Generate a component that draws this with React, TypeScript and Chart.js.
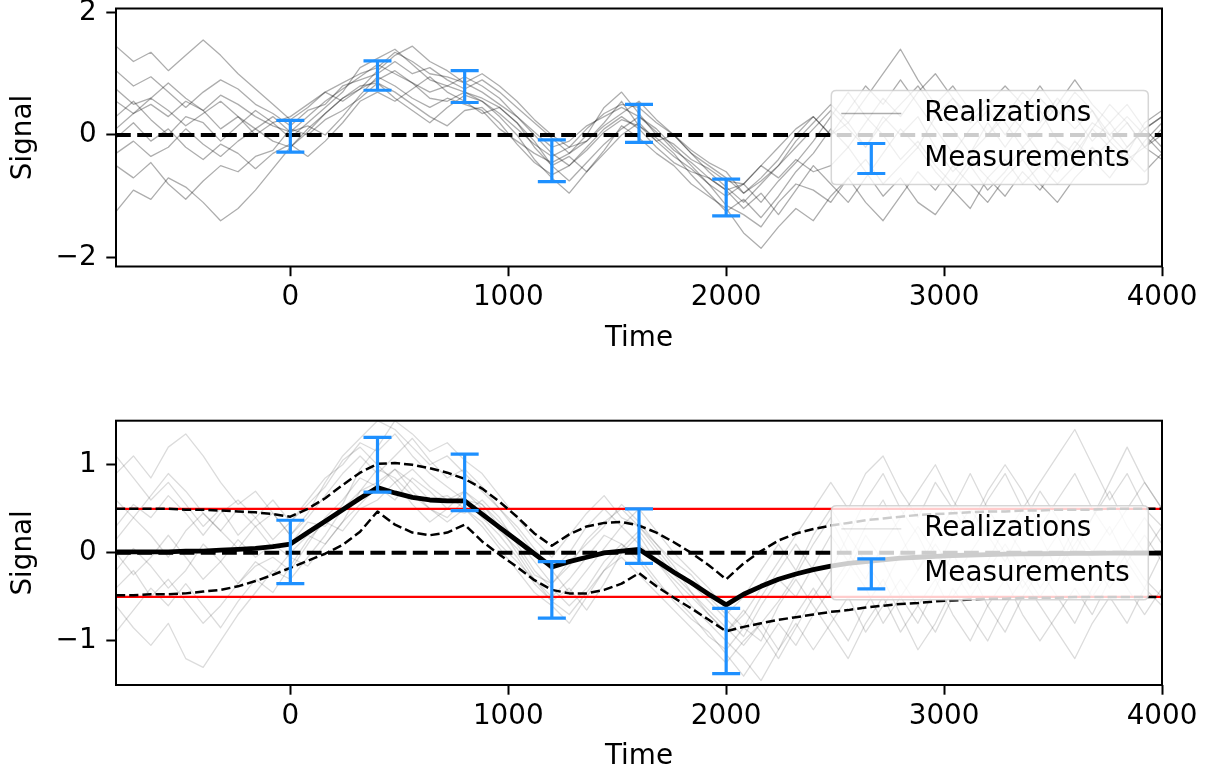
import React, { useEffect, useRef } from 'react';
import { Chart, registerables } from 'chart.js';

Chart.register(...registerables);

// ---------------- data ----------------
const X_RANGE = [-800, 4000];
const X_TICKS = [0, 1000, 2000, 3000, 4000];
const Y_TICKS_TOP = [-2, 0, 2];
const Y_TICKS_BOT = [-1, 0, 1];
const Y_RANGE_TOP = [-2.147, 2.065];
const Y_RANGE_BOT = [-1.5, 1.5];
const X_LABEL = 'Time';
const Y_LABEL = 'Signal';
const LEGEND_LABELS = ['Realizations', 'Measurements'];
const THRESHOLDS = [0.5, -0.5];
const ZERO_LEVEL = [0];

const TIME = [
  -800, -720, -640, -560, -480, -400, -320, -240, -160, -80, 0,
  80, 160, 240, 320, 400, 480, 560, 640, 720, 800,
  880, 960, 1040, 1120, 1200, 1280, 1360, 1440, 1520, 1600,
  1680, 1760, 1840, 1920, 2000, 2080, 2160, 2240, 2320, 2400,
  2480, 2560, 2640, 2720, 2800, 2880, 2960, 3040, 3120, 3200,
  3280, 3360, 3440, 3520, 3600, 3680, 3760, 3840, 3920, 4000,
];

const MEAS_TIME = [0, 400, 800, 1200, 1600, 2000];
const MEAS_TOP = [-0.02, 0.97, 0.79, -0.42, 0.19, -1.02];
const ERR_TOP = [0.26, 0.24, 0.26, 0.34, 0.31, 0.3];
const MEAS_BOT = [0.01, 1.0, 0.8, -0.42, 0.19, -1.0];
const ERR_BOT = [0.36, 0.31, 0.32, 0.32, 0.31, 0.37];

const POST_MEAN = [
  0.01, 0.01, 0.01, 0.01, 0.02, 0.02, 0.03, 0.04, 0.05, 0.07, 0.1,
  0.23, 0.36, 0.49, 0.62, 0.74, 0.68, 0.63, 0.6, 0.59, 0.59,
  0.44, 0.29, 0.14, -0.01, -0.16, -0.1, -0.05, 0.0, 0.02, 0.04,
  -0.09, -0.22, -0.34, -0.47, -0.59, -0.47, -0.38, -0.3, -0.24, -0.19,
  -0.15, -0.12, -0.1, -0.08, -0.06, -0.05, -0.04, -0.03, -0.025, -0.02,
  -0.015, -0.012, -0.01, -0.008, -0.006, -0.005, -0.004, -0.003, -0.002, -0.002,
];
const POST_UPPER = [
  0.5, 0.5, 0.5, 0.5, 0.49, 0.49, 0.48, 0.47, 0.46, 0.44, 0.41,
  0.5, 0.62, 0.77, 0.91, 1.01, 1.02, 1.0, 0.96, 0.91, 0.84,
  0.73, 0.58, 0.41, 0.22, 0.08, 0.21, 0.3, 0.34, 0.35, 0.31,
  0.23, 0.12, 0.0, -0.14, -0.3, -0.12, 0.02, 0.14, 0.22, 0.27,
  0.31, 0.34, 0.37, 0.39, 0.41, 0.43, 0.44, 0.45, 0.46, 0.47,
  0.47, 0.48, 0.48, 0.49, 0.49, 0.49, 0.5, 0.5, 0.5, 0.5,
];
const POST_LOWER = [
  -0.48, -0.48, -0.47, -0.47, -0.46, -0.44, -0.42, -0.38, -0.32, -0.25, -0.17,
  -0.09, -0.01, 0.09, 0.24, 0.47, 0.32, 0.23, 0.2, 0.23, 0.32,
  0.13, -0.02, -0.16, -0.31, -0.42, -0.46, -0.46, -0.42, -0.35, -0.23,
  -0.38, -0.51, -0.63, -0.76, -0.89, -0.84, -0.8, -0.76, -0.73, -0.7,
  -0.67, -0.65, -0.62, -0.6, -0.58, -0.57, -0.55, -0.54, -0.53, -0.52,
  -0.52, -0.51, -0.51, -0.51, -0.5, -0.5, -0.5, -0.5, -0.5, -0.5,
];

// realizations, upper panel
const TOP_R1 = [1.45, 1.2, 1.35, 1.05, 1.3, 1.55, 1.3, 1.0, 0.75, 0.5, 0.25,
  0.45, 0.7, 0.85, 1.0, 1.1, 1.35, 1.2, 1.0, 0.95, 0.85,
  0.7, 0.5, 0.3, 0.05, -0.2, -0.1, 0.15, 0.3, 0.45, 0.3,
  0.1, -0.2, -0.5, -0.8, -1.0, -0.8, -0.5, -0.2, 0.1, 0.3,
  0.0, 0.2, 0.6, 1.0, 1.4, 0.9, 0.5, 0.8, 0.4, 0.0,
  0.3, 0.7, 0.4, -0.1, -0.4, 0.1, 0.5, 0.2, -0.2, 0.1];
const TOP_R2 = [-1.25, -0.9, -1.05, -0.7, -0.85, -1.1, -1.4, -1.2, -0.9, -0.55, -0.2,
  0.1, 0.35, 0.6, 0.8, 0.85, 0.6, 0.4, 0.2, 0.45, 0.65,
  0.55, 0.3, 0.0, -0.4, -0.7, -0.95, -0.6, -0.3, 0.0, 0.2,
  -0.1, -0.35, -0.55, -0.8, -1.15, -1.3, -1.5, -1.1, -0.8, -0.9,
  -1.1, -0.7, -0.4, -0.8, -0.5, -0.2, -0.6, -0.9, -1.2, -0.7,
  -0.4, -0.8, -0.5, -0.1, -0.3, 0.1, -0.2, -0.5, -0.1, 0.2];
const TOP_R3 = [0.75, 0.5, 0.6, 0.85, 0.6, 0.4, 0.65, 0.5, 0.3, 0.15, 0.05,
  0.3, 0.55, 0.75, 0.95, 1.15, 1.0, 0.85, 0.7, 0.8, 0.7,
  0.55, 0.35, 0.1, -0.15, -0.35, -0.2, 0.1, 0.35, 0.5, 0.45,
  0.2, 0.0, -0.3, -0.6, -0.85, -1.1, -0.8, -0.5, -0.2, 0.1,
  0.4, 0.1, -0.2, 0.2, 0.5, 0.8, 0.4, 0.1, -0.3, 0.0,
  0.4, 0.1, -0.3, -0.6, -0.2, 0.2, 0.0, 0.3, 0.0, -0.3];
const TOP_R4 = [0.3, 0.55, 0.25, 0.0, 0.3, 0.2, -0.1, 0.15, 0.4, 0.2, -0.05,
  0.2, 0.45, 0.7, 1.1, 1.25, 1.4, 1.15, 0.9, 0.8, 0.95,
  0.8, 0.6, 0.3, 0.0, -0.3, -0.5, -0.2, 0.1, 0.3, 0.1,
  -0.2, -0.45, -0.6, -0.7, -0.9, -1.2, -0.95, -1.3, -0.9, -0.5,
  -0.8, -1.1, -0.7, -0.3, 0.1, -0.2, 0.3, 0.6, 0.2, 0.5,
  0.8, 0.5, 0.2, 0.6, 0.3, -0.1, 0.2, -0.2, 0.1, 0.3];
const TOP_R5 = [-0.3, -0.1, -0.35, -0.2, 0.1, -0.15, -0.35, -0.1, 0.1, -0.1, -0.2,
  0.05, 0.35, 0.6, 0.75, 0.9, 1.05, 0.85, 0.6, 0.55, 0.7,
  0.6, 0.45, 0.2, -0.1, -0.5, -0.75, -0.45, -0.15, 0.1, 0.3,
  0.05, -0.25, -0.45, -0.7, -0.9, -0.8, -1.1, -0.75, -0.45, -0.1,
  0.3, 0.7, 0.3, 0.0, -0.4, -0.1, -0.5, -0.8, -0.4, -0.7,
  -1.0, -0.6, -0.9, -0.5, -0.1, -0.4, -0.1, 0.2, -0.2, -0.4];
const TOP_R6 = [1.05, 0.8, 0.95, 0.7, 0.45, 0.7, 0.9, 0.75, 0.5, 0.35, 0.15,
  0.4, 0.5, 0.8, 0.9, 1.0, 1.2, 1.0, 1.1, 0.9, 0.75,
  0.9, 0.7, 0.45, 0.2, -0.05, -0.3, 0.0, 0.45, 0.7, 0.35,
  0.0, -0.15, -0.4, -0.55, -0.75, -0.8, -0.5, -0.7, -0.4, -0.6,
  -0.5, -0.2, 0.2, 0.6, 0.3, 0.7, 1.0, 0.6, 0.3, 0.6,
  0.2, -0.2, 0.1, 0.5, 0.9, 0.5, 0.2, 0.5, 0.1, 0.3];
const TOP_R7 = [-0.5, -0.7, -0.45, -0.8, -1.05, -0.75, -0.5, -0.6, -0.35, -0.25, 0.1,
  0.0, 0.25, 0.4, 0.6, 0.85, 0.7, 0.5, 0.3, 0.15, 0.4,
  0.45, 0.2, -0.15, -0.45, -0.65, -0.5, -0.25, 0.05, 0.25, 0.15,
  -0.05, -0.3, -0.65, -0.95, -1.25, -1.05, -1.35, -1.0, -0.6, -0.3,
  0.1, -0.2, -0.6, -1.0, -0.7, -1.1, -1.3, -0.9, -0.5, -0.9,
  -0.6, -0.2, -0.5, -0.8, -0.5, -0.2, -0.5, -0.2, 0.1, -0.2];
const TOP_R8 = [0.1, 0.35, 0.5, 0.3, 0.55, 0.4, 0.1, 0.3, 0.0, 0.2, 0.3,
  0.5, 0.7, 0.55, 0.75, 1.05, 1.3, 1.45, 1.2, 1.05, 0.85,
  1.0, 0.8, 0.55, 0.25, 0.0, -0.2, -0.1, 0.2, 0.55, 0.15,
  -0.1, 0.0, -0.3, -0.5, -0.7, -0.95, -0.7, -0.4, 0.0, 0.3,
  0.0, 0.4, 0.8, 0.5, 0.9, 0.5, 0.1, -0.3, 0.1, 0.4,
  0.0, 0.4, 0.8, 0.4, 0.1, 0.4, -0.1, -0.4, -0.2, 0.0];
const TOP_R9 = [-0.05, 0.2, -0.1, 0.1, -0.2, -0.4, -0.15, -0.3, -0.55, -0.3, -0.15,
  -0.35, -0.1, 0.2, 0.55, 0.7, 0.55, 0.75, 0.95, 0.7, 0.55,
  0.35, 0.45, 0.2, -0.2, -0.5, -0.35, -0.6, -0.25, 0.15, -0.05,
  -0.3, -0.5, -0.8, -1.0, -1.2, -1.6, -1.85, -1.5, -1.2, -1.4,
  -1.0, -0.7, -1.1, -1.4, -1.0, -0.6, -0.9, -0.5, -0.8, -1.1,
  -0.7, -0.4, -0.8, -1.1, -0.7, -0.4, -0.7, -0.3, -0.6, -0.3];
const TOP_R10 = [0.55, 0.35, 0.6, 0.4, 0.15, 0.35, 0.55, 0.3, 0.1, 0.3, 0.05,
  0.15, 0.0, 0.3, 0.65, 0.95, 0.8, 0.6, 0.45, 0.6, 0.5,
  0.4, 0.1, -0.1, -0.3, -0.45, -0.3, -0.1, 0.15, 0.35, 0.55,
  0.25, 0.0, -0.25, -0.45, -0.6, -0.95, -0.75, -0.5, -0.1, 0.2,
  0.5, 0.2, -0.2, 0.3, 0.0, 0.3, -0.2, -0.6, -0.3, 0.2,
  -0.2, 0.2, 0.6, 0.3, 0.7, 0.4, 0.0, -0.3, 0.2, 0.4];

// realizations, lower panel
const BOT_R1 = [0.9, 1.1, 0.85, 1.2, 1.35, 1.1, 0.8, 0.55, 0.7, 0.45, 0.2,
  0.45, 0.8, 1.1, 1.3, 1.5, 1.4, 1.2, 1.0, 1.1, 0.9,
  0.7, 0.5, 0.3, 0.05, -0.2, 0.0, 0.3, 0.5, 0.3, 0.1,
  -0.1, -0.3, -0.5, -0.7, -0.9, -0.7, -0.4, -0.1, 0.2, 0.5,
  0.8, 0.5, 0.9, 1.1, 0.7, 0.4, 0.8, 0.5, 0.2, 0.6,
  0.9, 0.5, 0.8, 1.1, 1.4, 1.0, 0.6, 0.9, 0.5, 0.3];
const BOT_R2 = [-0.6, -0.85, -1.05, -0.8, -1.2, -1.3, -1.0, -0.7, -0.45, -0.2, -0.3,
  -0.05, 0.2, 0.5, 0.7, 0.8, 0.95, 0.7, 0.5, 0.35, 0.5,
  0.3, 0.05, -0.2, -0.45, -0.6, -0.8, -0.5, -0.2, -0.05, -0.25,
  -0.45, -0.65, -0.85, -1.05, -1.25, -1.0, -0.8, -1.1, -0.7, -0.4,
  -0.7, -1.0, -0.6, -0.3, -0.7, -1.1, -0.8, -0.4, -0.7, -1.0,
  -0.6, -0.3, -0.6, -0.9, -1.2, -0.8, -0.5, -0.8, -0.4, -0.6];
const BOT_R3 = [0.3, 0.55, 0.4, 0.65, 0.45, 0.2, 0.45, 0.6, 0.4, 0.15, 0.35,
  0.6, 0.85, 1.0, 1.25, 1.15, 1.35, 1.1, 0.9, 0.75, 0.6,
  0.55, 0.35, 0.15, -0.1, -0.35, -0.15, 0.15, 0.35, 0.5, 0.3,
  0.05, -0.2, -0.35, -0.55, -0.75, -0.95, -0.6, -0.3, -0.5, -0.15,
  0.2, -0.1, 0.3, 0.6, 0.2, -0.2, 0.2, 0.5, 0.9, 0.5,
  0.2, 0.5, 0.2, -0.2, 0.1, 0.4, 0.7, 0.3, 0.0, 0.3];
const BOT_R4 = [-0.2, 0.05, -0.15, -0.4, -0.2, 0.1, -0.1, -0.35, -0.15, -0.05, -0.2,
  0.1, 0.4, 0.6, 0.85, 0.75, 0.95, 0.8, 0.6, 0.65, 0.5,
  0.35, 0.1, -0.1, -0.3, -0.5, -0.3, -0.05, 0.2, 0.1, -0.05,
  -0.3, -0.55, -0.75, -0.9, -1.15, -1.4, -1.1, -0.8, -1.05, -0.7,
  -0.4, -0.1, -0.4, -0.8, -0.5, -0.2, 0.1, -0.2, -0.5, -0.2,
  0.1, -0.2, -0.5, -0.2, 0.2, -0.1, -0.4, -0.1, 0.2, -0.1];
const BOT_R5 = [0.6, 0.4, 0.65, 0.9, 0.7, 0.45, 0.25, 0.5, 0.3, 0.05, 0.1,
  0.35, 0.3, 0.55, 0.95, 1.2, 1.5, 1.35, 1.15, 1.25, 1.05,
  0.9, 0.65, 0.4, 0.15, -0.05, 0.2, 0.45, 0.65, 0.4, 0.3,
  0.1, -0.1, -0.25, -0.5, -0.7, -0.5, -0.2, 0.1, -0.2, 0.2,
  0.5, 0.2, 0.6, 0.9, 0.5, 0.2, -0.2, 0.2, 0.5, 0.2,
  -0.1, 0.3, 0.7, 0.4, 0.0, 0.4, 0.8, 1.2, 0.8, 0.5];
const BOT_R6 = [-0.9, -0.65, -0.4, -0.6, -0.35, -0.6, -0.85, -0.55, -0.3, -0.45, -0.15,
  0.15, 0.35, 0.25, 0.5, 0.6, 0.8, 0.55, 0.35, 0.5, 0.7,
  0.55, 0.3, 0.0, -0.3, -0.55, -0.4, -0.65, -0.35, 0.0, 0.2,
  -0.1, -0.35, -0.6, -0.8, -1.0, -1.2, -1.45, -1.1, -0.8, -1.1,
  -0.8, -0.5, -0.9, -0.6, -0.3, -0.6, -0.9, -0.5, -0.2, -0.6,
  -0.9, -0.5, -0.2, -0.5, -0.8, -0.4, -0.1, -0.4, -0.7, -0.4];
const BOT_R7 = [0.15, 0.4, 0.2, -0.05, 0.25, 0.45, 0.25, 0.05, 0.3, 0.45, 0.2,
  0.4, 0.65, 0.9, 1.1, 0.9, 1.1, 1.3, 1.05, 0.85, 0.95,
  0.75, 0.5, 0.25, 0.0, -0.2, -0.45, -0.2, 0.05, 0.3, 0.5,
  0.25, 0.0, -0.2, -0.4, -0.65, -0.85, -0.5, -0.2, 0.1, -0.2,
  -0.5, -0.2, 0.2, -0.1, -0.5, -0.8, -0.4, 0.0, -0.4, -0.1,
  0.3, 0.0, -0.4, -0.1, 0.3, 0.0, 0.3, -0.1, -0.4, 0.0];
const BOT_R8 = [-0.4, -0.2, -0.5, -0.3, -0.55, -0.8, -0.6, -0.35, -0.1, -0.25, 0.0,
  0.2, 0.1, 0.35, 0.55, 0.75, 0.6, 0.85, 0.7, 0.5, 0.45,
  0.6, 0.4, 0.1, -0.2, -0.4, -0.6, -0.4, -0.1, 0.1, -0.1,
  -0.35, -0.5, -0.7, -0.95, -1.1, -0.85, -1.0, -0.6, -0.3, -0.6,
  -0.9, -1.2, -0.8, -0.5, -0.9, -0.6, -0.3, -0.7, -1.0, -0.6,
  -0.3, -0.7, -1.0, -0.7, -0.4, -0.7, -0.3, 0.0, -0.3, -0.5];
const BOT_R9 = [1.1, 0.85, 0.6, 0.8, 0.55, 0.3, 0.5, 0.2, 0.4, 0.6, 0.35,
  0.55, 0.75, 1.05, 1.2, 1.0, 0.8, 0.95, 0.75, 0.6, 0.7,
  0.5, 0.25, 0.05, -0.25, -0.35, -0.1, 0.1, 0.3, 0.55, 0.35,
  0.1, -0.15, -0.45, -0.65, -0.85, -1.05, -0.8, -0.55, -0.25, 0.1,
  0.4, 0.0, -0.3, 0.1, 0.4, 0.7, 1.0, 0.6, 0.3, 0.7,
  1.0, 0.7, 0.3, 0.6, 0.9, 0.5, 0.2, 0.5, 0.8, 0.5];
const BOT_R10 = [0.0, -0.25, -0.05, 0.2, -0.05, -0.3, -0.1, 0.15, -0.05, 0.1, -0.05,
  -0.15, 0.1, 0.35, 0.7, 0.95, 0.85, 0.65, 0.5, 0.4, 0.6,
  0.4, 0.2, -0.05, -0.35, -0.55, -0.7, -0.45, -0.2, 0.05, 0.25,
  0.0, -0.25, -0.45, -0.7, -0.9, -0.65, -0.9, -1.2, -0.85, -0.5,
  -0.2, 0.2, -0.1, -0.4, 0.0, 0.3, 0.0, -0.3, 0.0, 0.3,
  0.0, -0.4, -0.1, 0.2, -0.2, -0.5, -0.2, 0.1, 0.4, 0.1];

const TOP_REALIZATIONS = [TOP_R1, TOP_R2, TOP_R3, TOP_R4, TOP_R5, TOP_R6, TOP_R7, TOP_R8, TOP_R9, TOP_R10];
const BOT_REALIZATIONS = [BOT_R1, BOT_R2, BOT_R3, BOT_R4, BOT_R5, BOT_R6, BOT_R7, BOT_R8, BOT_R9, BOT_R10];

// ---------------- styling ----------------
const FONT = 'DejaVu Sans';
const FS = 27.8;
const BLUE = '#1E90FF';
const TOP_REAL_COLOR = 'rgba(0,0,0,0.32)';
const BOT_REAL_COLOR = 'rgba(0,0,0,0.14)';

const fmt = (v: number) => (v < 0 ? '\u2212' + Math.abs(v) : String(v));
const series = (ys: number[]) => TIME.map((t, i) => ({ x: t, y: ys[i] }));
const hline = (v: number) => [{ x: X_RANGE[0], y: v }, { x: X_RANGE[1], y: v }];
const errData = (vals: number[], errs: number[]) =>
  MEAS_TIME.flatMap((t, i) => [
    { x: t, y: vals[i] - errs[i] },
    { x: t, y: vals[i] + errs[i] },
    { x: t, y: null as any },
  ]);

const errDataset = (vals: number[], errs: number[]) => ({
  label: LEGEND_LABELS[1],
  data: errData(vals, errs),
  showLine: true,
  spanGaps: false,
  borderColor: BLUE,
  borderWidth: 3.2,
  pointStyle: 'line',
  pointRadius: 14,
  pointHoverRadius: 14,
  pointBorderColor: BLUE,
  pointBackgroundColor: BLUE,
  pointBorderWidth: 3.2,
});

const lineDataset = (data: any[], color: string, width: number, dash: number[] = []) => ({
  data,
  showLine: true,
  borderColor: color,
  borderWidth: width,
  borderDash: dash,
  borderJoinStyle: 'round',
  pointRadius: 0,
  pointHoverRadius: 0,
});

const framePlugin = {
  id: 'frame',
  afterDatasetsDraw(chart: any) {
    const { ctx, chartArea: a } = chart;
    ctx.save();
    ctx.strokeStyle = '#000';
    ctx.lineWidth = 2;
    ctx.strokeRect(a.left, a.top, a.right - a.left, a.bottom - a.top);
    ctx.restore();
  },
};

const legendPlugin = {
  id: 'boxLegend',
  afterDatasetsDraw(chart: any, _args: any, opts: any) {
    const { ctx, chartArea: a } = chart;
    const w = 317;
    const h = 94;
    const right = a.right - 13.7;
    const left = right - w;
    const top = (a.top + a.bottom) / 2 - h / 2;
    ctx.save();
    const r = 5;
    ctx.beginPath();
    ctx.moveTo(left + r, top);
    ctx.lineTo(right - r, top);
    ctx.quadraticCurveTo(right, top, right, top + r);
    ctx.lineTo(right, top + h - r);
    ctx.quadraticCurveTo(right, top + h, right - r, top + h);
    ctx.lineTo(left + r, top + h);
    ctx.quadraticCurveTo(left, top + h, left, top + h - r);
    ctx.lineTo(left, top + r);
    ctx.quadraticCurveTo(left, top, left + r, top);
    ctx.closePath();
    ctx.fillStyle = 'rgba(255,255,255,0.8)';
    ctx.fill();
    ctx.strokeStyle = 'rgba(204,204,204,0.8)';
    ctx.lineWidth = 1.5;
    ctx.stroke();

    const y1 = top + 23;
    const y2 = top + 68;
    ctx.strokeStyle = opts.lineColor;
    ctx.lineWidth = 1.3;
    ctx.beginPath();
    ctx.moveTo(left + 10, y1);
    ctx.lineTo(left + 70, y1);
    ctx.stroke();

    const cx = left + 40;
    ctx.strokeStyle = BLUE;
    ctx.lineWidth = 3.2;
    ctx.beginPath();
    ctx.moveTo(cx, y2 - 15);
    ctx.lineTo(cx, y2 + 15);
    ctx.moveTo(cx - 14, y2 - 15);
    ctx.lineTo(cx + 14, y2 - 15);
    ctx.moveTo(cx - 14, y2 + 15);
    ctx.lineTo(cx + 14, y2 + 15);
    ctx.stroke();

    ctx.fillStyle = '#000';
    ctx.font = `${FS}px "${FONT}"`;
    ctx.textAlign = 'left';
    ctx.textBaseline = 'middle';
    ctx.fillText(LEGEND_LABELS[0], left + 93, y1);
    ctx.fillText(LEGEND_LABELS[1], left + 93, y2);
    ctx.restore();
  },
};

function buildConfig(p: {
  yRange: number[];
  yTicks: number[];
  datasets: any[];
  legendLineColor: string;
  padTop: number;
  padBottom: number;
  xAxisHeight: number;
}): any {
  const font = { family: FONT, size: FS };
  const grid = {
    display: true,
    drawOnChartArea: false,
    drawTicks: true,
    tickLength: 9.7,
    tickWidth: 2,
    tickColor: '#000',
  };
  return {
    type: 'scatter',
    data: { datasets: p.datasets },
    options: {
      responsive: false,
      animation: false,
      devicePixelRatio: 1,
      events: [],
      layout: { autoPadding: false, padding: { left: 0, right: 47, top: p.padTop, bottom: p.padBottom } },
      elements: { point: { radius: 0, hoverRadius: 0 }, line: { tension: 0 } },
      plugins: {
        legend: { display: false },
        tooltip: { enabled: false },
        boxLegend: { lineColor: p.legendLineColor },
      },
      scales: {
        x: {
          type: 'linear',
          position: 'bottom',
          min: X_RANGE[0],
          max: X_RANGE[1],
          afterBuildTicks: (s: any) => {
            s.ticks = X_TICKS.map((v) => ({ value: v }));
          },
          afterFit: (s: any) => {
            s.height = p.xAxisHeight;
            s.paddingLeft = 0;
            s.paddingRight = 0;
          },
          grid,
          border: { display: false },
          ticks: { autoSkip: false, maxRotation: 0, padding: 5.3, color: '#000', font, callback: (v: number) => fmt(v) },
          title: { display: true, text: X_LABEL, color: '#000', font, padding: { top: 0, bottom: 0 } },
        },
        y: {
          type: 'linear',
          position: 'left',
          min: p.yRange[0],
          max: p.yRange[1],
          afterBuildTicks: (s: any) => {
            s.ticks = p.yTicks.map((v) => ({ value: v }));
          },
          afterFit: (s: any) => {
            s.width = 116;
            s.paddingTop = 0;
            s.paddingBottom = 0;
          },
          grid,
          border: { display: false },
          ticks: { autoSkip: false, padding: 9.7, color: '#000', font, callback: (v: number) => fmt(v) },
          title: { display: true, text: Y_LABEL, color: '#000', font, padding: { top: 6.9, bottom: 0 } },
        },
      },
    },
    plugins: [framePlugin, legendPlugin],
  };
}

export default function App() {
  const topRef = useRef<HTMLCanvasElement>(null);
  const botRef = useRef<HTMLCanvasElement>(null);

  useEffect(() => {
    const topDatasets = [
      errDataset(MEAS_TOP, ERR_TOP),
      ...ZERO_LEVEL.map((z) => lineDataset(hline(z), '#000', 4, [14.8, 6.4])),
      ...TOP_REALIZATIONS.map((r) => lineDataset(series(r), TOP_REAL_COLOR, 1.3)),
    ];
    const botDatasets = [
      errDataset(MEAS_BOT, ERR_BOT),
      lineDataset(series(POST_MEAN), '#000', 4.8),
      lineDataset(series(POST_UPPER), '#000', 2.5, [9.2, 4]),
      lineDataset(series(POST_LOWER), '#000', 2.5, [9.2, 4]),
      ...ZERO_LEVEL.map((z) => lineDataset(hline(z), '#000', 4, [14.8, 6.4])),
      ...THRESHOLDS.map((t) => lineDataset(hline(t), '#FF0000', 2.2)),
      ...BOT_REALIZATIONS.map((r) => lineDataset(series(r), BOT_REAL_COLOR, 1.3)),
    ];
    const c1 = new Chart(
      topRef.current as HTMLCanvasElement,
      buildConfig({
        yRange: Y_RANGE_TOP,
        yTicks: Y_TICKS_TOP,
        datasets: topDatasets,
        legendLineColor: TOP_REAL_COLOR,
        padTop: 8.5,
        padBottom: 0,
        xAxisHeight: 88.5,
      })
    );
    const c2 = new Chart(
      botRef.current as HTMLCanvasElement,
      buildConfig({
        yRange: Y_RANGE_BOT,
        yTicks: Y_TICKS_BOT,
        datasets: botDatasets,
        legendLineColor: BOT_REAL_COLOR,
        padTop: 65.7,
        padBottom: 2,
        xAxisHeight: 88,
      })
    );
    return () => {
      c1.destroy();
      c2.destroy();
    };
  }, []);

  return (
    <div style={{ position: 'fixed', left: 0, top: 0, width: 1209, height: 775, background: '#fff' }}>
      <canvas ref={topRef} width={1209} height={355} style={{ position: 'absolute', left: 0, top: 0 }} />
      <canvas ref={botRef} width={1209} height={420} style={{ position: 'absolute', left: 0, top: 355 }} />
    </div>
  );
}
